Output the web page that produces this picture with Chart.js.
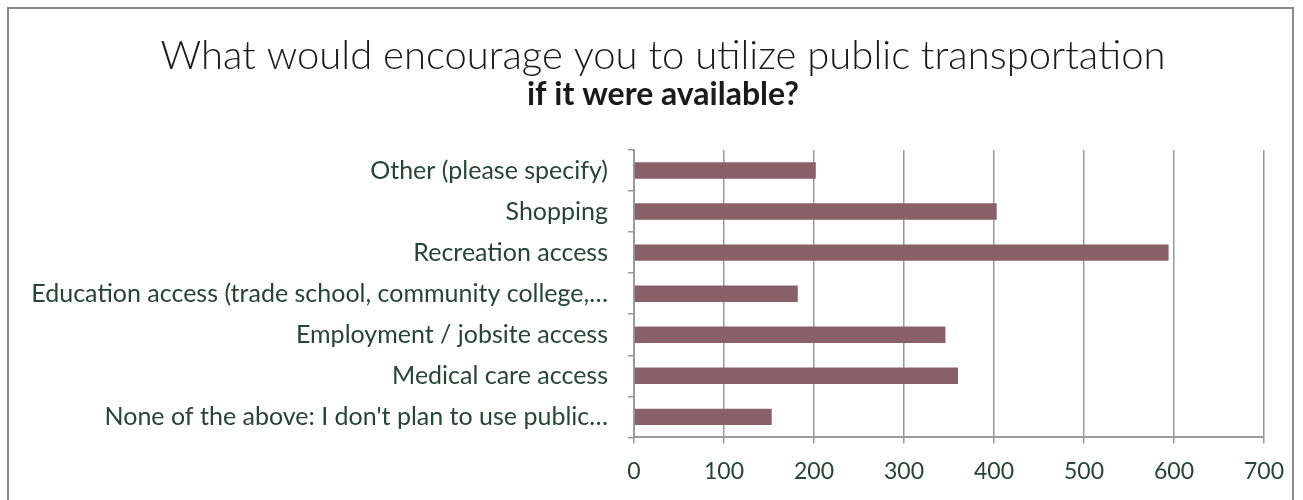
<!DOCTYPE html>
<html>
<head>
<meta charset="utf-8">
<script src="https://cdn.jsdelivr.net/npm/chart.js@4/dist/chart.umd.min.js"></script>
<style>
    html, body { margin: 0; padding: 0; background: #fff; }
    #wrap { position: relative; width: 1303px; height: 500px; overflow: hidden; }
    #frame {
        position: absolute; left: 7px; top: 7px; width: 1287px; height: 520px;
        border: 2px solid #8a8a8a; box-sizing: border-box; pointer-events: none;
    }
    canvas { position: absolute; left: 0; top: 0; }
</style>
</head>
<body>
<div id="wrap">
    <canvas id="barChart" width="1303" height="500"></canvas>
    <div id="frame"></div>
</div>
<script>
// Data
const categories = [
    'Other (please specify)',
    'Shopping',
    'Recreation access',
    'Education access (trade school, community college,…',
    'Employment / jobsite access',
    'Medical care access',
    "None of the above: I don't plan to use public…"
];
const responses = [202, 403, 594, 182, 346, 360, 153];
const xTicks = [0, 100, 200, 300, 400, 500, 600, 700];

const titleLine = 'What would encourage you to utilize public transportation';
const subtitleLine = 'if it were available?';

const textColor = '#264536';
const gridColor = '#9a9a9a';

const ctx = document.getElementById('barChart').getContext('2d');
const barChart = new Chart(ctx, {
    type: 'bar',
    data: {
        labels: categories,
        datasets: [{
            data: responses,
            backgroundColor: '#8a6068',
            borderWidth: 0,
            barPercentage: 0.4,
            categoryPercentage: 1.0
        }]
    },
    options: {
        indexAxis: 'y',
        responsive: false,
        animation: false,
        layout: {
            // extra left padding pushes the title centre right, like the original
            padding: { left: 62, right: 39, top: 0, bottom: 1 }
        },
        plugins: {
            legend: { display: false },
            tooltip: { enabled: false },
            title: {
                display: true,
                text: titleLine,
                color: '#1a1a1a',
                font: { family: 'Lato', size: 40, weight: '300', lineHeight: 1.0 },
                padding: { top: 36, bottom: 0 }
            },
            subtitle: {
                display: true,
                text: subtitleLine,
                color: '#1a1a1a',
                font: { family: 'Lato', size: 32, weight: 'bold', lineHeight: 1.0 },
                padding: { top: 3, bottom: 39 }
            }
        },
        scales: {
            x: {
                min: 0,
                max: 700,
                afterBuildTicks: (scale) => {
                    scale.ticks = xTicks.map(v => ({ value: v }));
                },
                grid: {
                    color: gridColor,
                    lineWidth: 1.5,
                    drawOnChartArea: true,
                    drawTicks: true,
                    tickLength: 6
                },
                border: { color: gridColor, width: 2 },
                ticks: {
                    color: textColor,
                    padding: 14,
                    font: { family: 'Lato', size: 23 }
                }
            },
            y: {
                afterFit: (scale) => {
                    scale.width = 572;
                    // long labels run past the padded box, so don't clip them
                    scale._computeLabelArea = () => undefined;
                },
                grid: {
                    offset: true,
                    color: gridColor,
                    lineWidth: 1.5,
                    drawOnChartArea: false,
                    drawTicks: true,
                    tickLength: 6
                },
                border: { color: gridColor, width: 2 },
                ticks: {
                    color: textColor,
                    padding: 20,
                    font: { family: 'Lato', size: 25 }
                }
            }
        }
    }
});
</script>
</body>
</html>
